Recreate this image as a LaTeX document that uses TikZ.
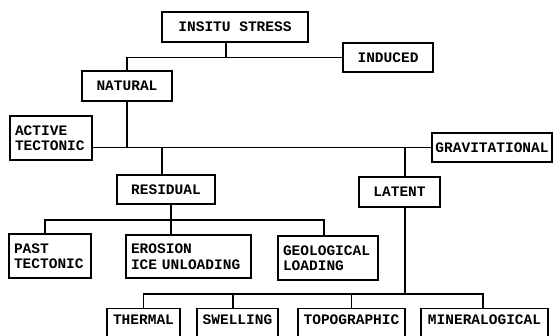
\documentclass[tikz,border=0pt]{standalone}
\usepackage{fontspec}
\setmonofont{Liberation Mono}
\begin{document}
\begin{tikzpicture}[x=1pt,y=-1pt,
  box/.style={draw,line width=1.1pt,rectangle,inner sep=0pt,font=\ttfamily\bfseries\fontsize{14.5}{15.5}\selectfont,align=center},
  lbox/.style={draw,line width=1.1pt,rectangle,inner xsep=5pt,inner ysep=0pt,font=\ttfamily\bfseries\fontsize{14.5}{15.5}\selectfont,align=left},
  obox/.style={draw,line width=1.1pt,rectangle,inner xsep=0pt,inner ysep=6pt,text height=10pt,text depth=40pt,anchor=north,font=\ttfamily\bfseries\fontsize{14.5}{15.5}\selectfont,align=center},
  link/.style={line width=1.1pt}]
\useasboundingbox (0,0) rectangle (553,336);
\clip (0,0) rectangle (553,336);
\fill[white] (0,0) rectangle (553,336);

\node[box,minimum width=146pt,minimum height=30pt] (insitu) at (235,27) {INSITU STRESS};
\node[box,minimum width=90pt,minimum height=29pt] (induced) at (388,57.5) {INDUCED};
\node[box,minimum width=90pt,minimum height=30pt] (natural) at (127,86) {NATURAL};
\node[lbox,text width=72pt,minimum height=44pt] (active) at (51,138) {ACTIVE\\TECTONIC};
\node[box,minimum width=120pt,minimum height=29pt] (grav) at (492,147.5) {GRAVITATIONAL};
\node[box,minimum width=98pt,minimum height=29pt] (residual) at (166,189.5) {RESIDUAL};
\node[box,minimum width=81pt,minimum height=30pt] (latent) at (399.5,192) {LATENT};
\node[lbox,text width=72pt,minimum height=44pt] (past) at (50,256) {PAST\\TECTONIC};
\node[lbox,text width=115pt,minimum height=43pt] (erosion) at (188.5,256.5) {EROSION\\ICE UNLOADING};
\node[lbox,text width=90pt,minimum height=44pt] (geo) at (328,258) {GEOLOGICAL\\LOADING};
\node[obox,minimum width=73pt] (thermal) at (143.5,308) {THERMAL};
\node[obox,minimum width=81pt] (swelling) at (237.5,308) {SWELLING};
\node[obox,minimum width=107pt] (topo) at (351.5,308) {TOPOGRAPHIC};
\node[obox,minimum width=127pt] (mineral) at (484.5,308) {MINERALOGICAL};

\coordinate (rb) at (171,220);
\coordinate (lb) at (405,294);

\draw[link] ([xshift=-9pt]insitu.south) -- ([xshift=-9pt]insitu.south |- induced.west);
\draw[link] (natural.north) |- (induced.west);
\draw[link] (natural.south) -- (natural.south |- grav.west);
\draw[link] (active.east |- grav.west) -- (grav.west);
\draw[link] ([xshift=-4pt]residual.north) -- ([xshift=-4pt]residual.north |- grav.west);
\draw[link] ([xshift=5.5pt]latent.north) -- ([xshift=5.5pt]latent.north |- grav.west);
\draw[link] ([xshift=5pt]residual.south) -- ([xshift=5pt]residual.south |- erosion.north);
\draw[link] ([xshift=-5pt]past.north) |- (rb) -| ([xshift=-4pt]geo.north);
\draw[link] ([xshift=5.5pt]latent.south) -- (lb);
\draw[link] (thermal.north) |- (lb) -| ([xshift=-1.5pt]mineral.north);
\draw[link] ([xshift=-4.5pt]swelling.north) -- ([xshift=-4.5pt]swelling.north |- lb);
\draw[link] (topo.north) -- (topo.north |- lb);
\end{tikzpicture}
\end{document}
